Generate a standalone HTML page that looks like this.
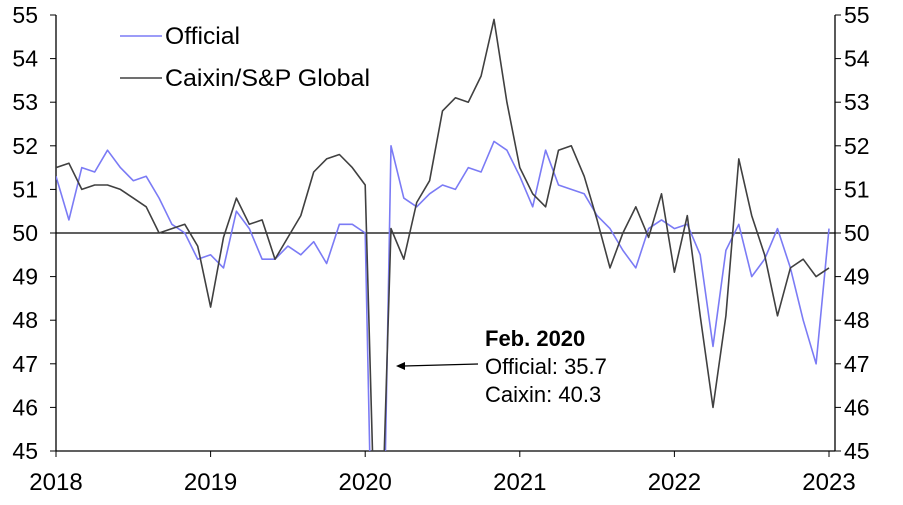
<!DOCTYPE html>
<html><head><meta charset="utf-8"><style>
html,body{margin:0;padding:0;background:#fff;overflow:hidden;width:903px;height:505px;}
svg{display:block;font-family:"Liberation Sans",Arial,sans-serif;}
</style></head><body>
<svg width="903" height="505" viewBox="0 0 903 505" xmlns="http://www.w3.org/2000/svg">
<defs><clipPath id="c"><rect x="56" y="15" width="779" height="436"/></clipPath></defs>
<g id="axes" stroke="#000" stroke-width="1.3" fill="none">
<line x1="56" y1="15" x2="56" y2="451"/>
<line x1="835" y1="15" x2="835" y2="451"/>
<line x1="56" y1="451" x2="835" y2="451"/>
<line x1="56" y1="233" x2="835" y2="233"/>
</g>
<g id="ticks" stroke="#000" stroke-width="1"></g>
<g id="labels" font-size="23" fill="#000"></g>
<g clip-path="url(#c)" fill="none" stroke-width="1.6" stroke-linejoin="round">
<polyline id="off" stroke="#7b7bf5"/>
<polyline id="cx" stroke="#404040"/>
</g>
<line x1="120" y1="36" x2="162" y2="36" stroke="#7b7bf5" stroke-width="1.6"/>
<text x="165" y="44" font-size="24" textLength="75" lengthAdjust="spacingAndGlyphs">Official</text>
<line x1="120" y1="78" x2="162" y2="78" stroke="#404040" stroke-width="1.6"/>
<text x="165" y="86" font-size="24" textLength="205" lengthAdjust="spacingAndGlyphs">Caixin/S&amp;P Global</text>
<text x="485" y="346" font-size="22" font-weight="bold">Feb. 2020</text>
<text x="485" y="374" font-size="22">Official: 35.7</text>
<text x="485" y="402" font-size="22">Caixin: 40.3</text>
<line x1="478" y1="364" x2="404" y2="366" stroke="#000" stroke-width="1.2"/>
<polygon points="396,366 405,362 405,370" fill="#000"/>
</svg>
<script>
const off=[51.3,50.3,51.5,51.4,51.9,51.5,51.2,51.3,50.8,50.2,50.0,49.4,
49.5,49.2,50.5,50.1,49.4,49.4,49.7,49.5,49.8,49.3,50.2,50.2,
50.0,35.7,52.0,50.8,50.6,50.9,51.1,51.0,51.5,51.4,52.1,51.9,
51.3,50.6,51.9,51.1,51.0,50.9,50.4,50.1,49.6,49.2,50.1,50.3,
50.1,50.2,49.5,47.4,49.6,50.2,49.0,49.4,50.1,49.2,48.0,47.0,50.1];
const cx=[51.5,51.6,51.0,51.1,51.1,51.0,50.8,50.6,50.0,50.1,50.2,49.7,
48.3,49.9,50.8,50.2,50.3,49.4,49.9,50.4,51.4,51.7,51.8,51.5,
51.1,40.3,50.1,49.4,50.7,51.2,52.8,53.1,53.0,53.6,54.9,53.0,
51.5,50.9,50.6,51.9,52.0,51.3,50.3,49.2,50.0,50.6,49.9,50.9,
49.1,50.4,48.1,46.0,48.1,51.7,50.4,49.5,48.1,49.2,49.4,49.0,49.2];
const X=i=>56+i*(773/60), Y=v=>451-(v-45)*43.6;
const pts=a=>a.map((v,i)=>X(i).toFixed(1)+","+Y(v).toFixed(1)).join(" ");
document.getElementById("off").setAttribute("points",pts(off));
document.getElementById("cx").setAttribute("points",pts(cx));
const ns="http://www.w3.org/2000/svg";
const T=document.getElementById("ticks"),L=document.getElementById("labels");
function el(p,t,a,txt){const e=document.createElementNS(ns,t);for(const k in a)e.setAttribute(k,a[k]);if(txt)e.textContent=txt;p.appendChild(e);}
for(let v=45;v<=55;v++){const y=Y(v);
el(T,"line",{x1:50,y1:y,x2:56,y2:y});el(T,"line",{x1:835,y1:y,x2:841,y2:y});
el(L,"text",{x:38,y:y+8,"text-anchor":"end"},String(v));
el(L,"text",{x:844,y:y+8},String(v));}
for(let k=0;k<=5;k++){const x=X(k*12);el(T,"line",{x1:x,y1:451,x2:x,y2:457});
el(L,"text",{x:x,y:490,"text-anchor":"middle","font-size":24},String(2018+k));}
</script>
</body></html>
